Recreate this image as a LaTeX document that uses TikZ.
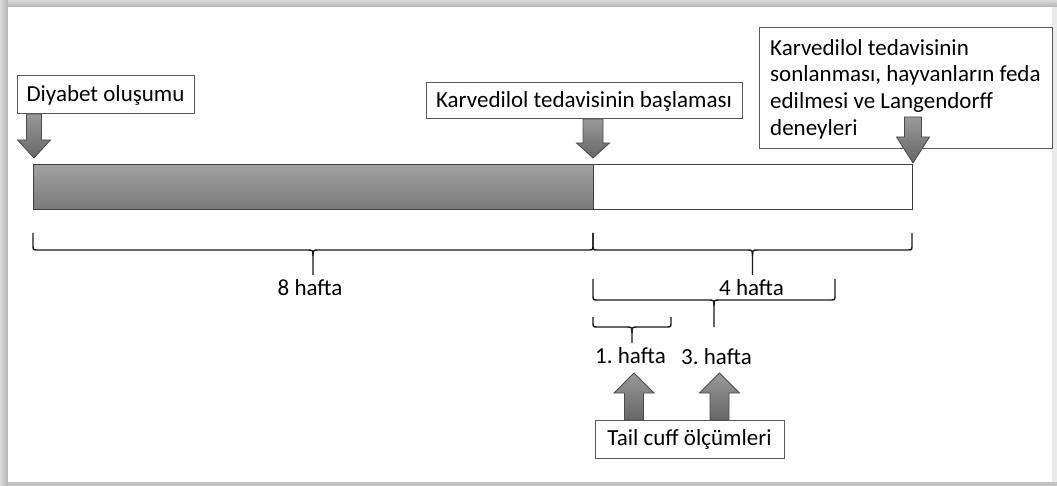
\documentclass[tikz,border=0pt]{standalone}
\usepackage{fontspec}
\setmainfont{Carlito}
\frenchspacing
\newcommand\blockarrow[6]{% cx, ystart, ybase, ytip, shaft half, head half
  \path[blk] ({#1-#5},#2) -- ({#1+#5},#2) -- ({#1+#5},#3) -- ({#1+#6},#3) -- (#1,#4) -- ({#1-#6},#3) -- ({#1-#5},#3) -- cycle;}
\newcommand\hbrace[5]{% x1, x2, ytop, yline, ytip
  \draw[brc] (#1,#3) -- (#1,{#4-5}) .. controls (#1,#4) .. ({#1+5},#4) -- ({(#1+#2)/2-6},#4) .. controls ({(#1+#2)/2},#4) .. ({(#1+#2)/2},{#4+6}) -- ({(#1+#2)/2},#5);
  \draw[brc] (#2,#3) -- (#2,{#4-5}) .. controls (#2,#4) .. ({#2-5},#4) -- ({(#1+#2)/2+6},#4) .. controls ({(#1+#2)/2},#4) .. ({(#1+#2)/2},{#4+6});}
\begin{document}
\begin{tikzpicture}[x=1pt,y=-1pt,
  box/.style={draw=black!65, fill=white, line width=1pt, inner sep=0pt, font=\fontsize{23}{26.7}\selectfont},
  lbl/.style={inner sep=0pt, font=\fontsize{23}{26.7}\selectfont, anchor=base},
  brc/.style={draw=black!90, line width=1.4pt, line join=round},
  blk/.style={draw=black!70, line width=0.8pt, top color=black!40, bottom color=black!60},
  barpart/.style={draw=black!75, line width=0.8pt, minimum height=45, inner sep=0pt, anchor=north west}
]
\useasboundingbox (0,0) rectangle (1057,486);
% frame with shadow
\fill[black!22] (0,0) rectangle (1057,486);
\shade[left color=black!14, right color=black!30] (0,0) rectangle (8,486);
\shade[top color=black!14, bottom color=black!30] (8,0) rectangle (1057,7);
\fill[black!8] (1052,7) rectangle (1057,482);
\fill[black!24] (8,482) rectangle (1057,486);
\fill[white] (8,7) rectangle (1052,482);
% timeline bar
\node[barpart, minimum width=560, top color=black!37, bottom color=black!52] (graybar) at (33,164) {};
\node[barpart, minimum width=319, fill=white] (whitebar) at (593,164) {};
% boxes
\node[box, minimum width=177, minimum height=38] (diy) at (105.5,95) {Diyabet oluşumu};
\node[box, minimum width=316, minimum height=36] (start) at (584,101) {Karvedilol tedavisinin başlaması};
\node[box, minimum width=293, minimum height=121, anchor=north west] (end) at (759,27) {};
\node[lbl, align=left, anchor=north west] (endtxt) at (770,39) {Karvedilol tedavisinin\\sonlanması, hayvanların feda\\edilmesi ve Langendorff\\deneyleri};
\node[box, minimum width=189, minimum height=38] (tail) at (689.5,439) {Tail cuff ölçümleri};
% block arrows
\blockarrow{34}{114}{140}{158}{7.5}{16.5}
\blockarrow{593}{119}{143}{158}{10}{16.5}
\blockarrow{913}{117}{137}{163}{8.5}{16.5}
\blockarrow{634}{420}{393}{373}{9.5}{20}
\blockarrow{719.5}{420}{393}{373}{9.5}{20}
% braces
\hbrace{33}{593}{233}{250}{275}
\hbrace{593}{912}{233}{250}{275}
\hbrace{593}{835}{279}{300}{327}
\hbrace{593}{671}{317}{327}{343}
% labels
\node[lbl] (w8) at (310,295) {8 hafta};
\node[lbl] (w4) at (751.5,295) {4 hafta};
\node[lbl] (w1) at (630.5,363) {1. hafta};
\node[lbl] (w3) at (716.5,364) {3. hafta};
\end{tikzpicture}
\end{document}
